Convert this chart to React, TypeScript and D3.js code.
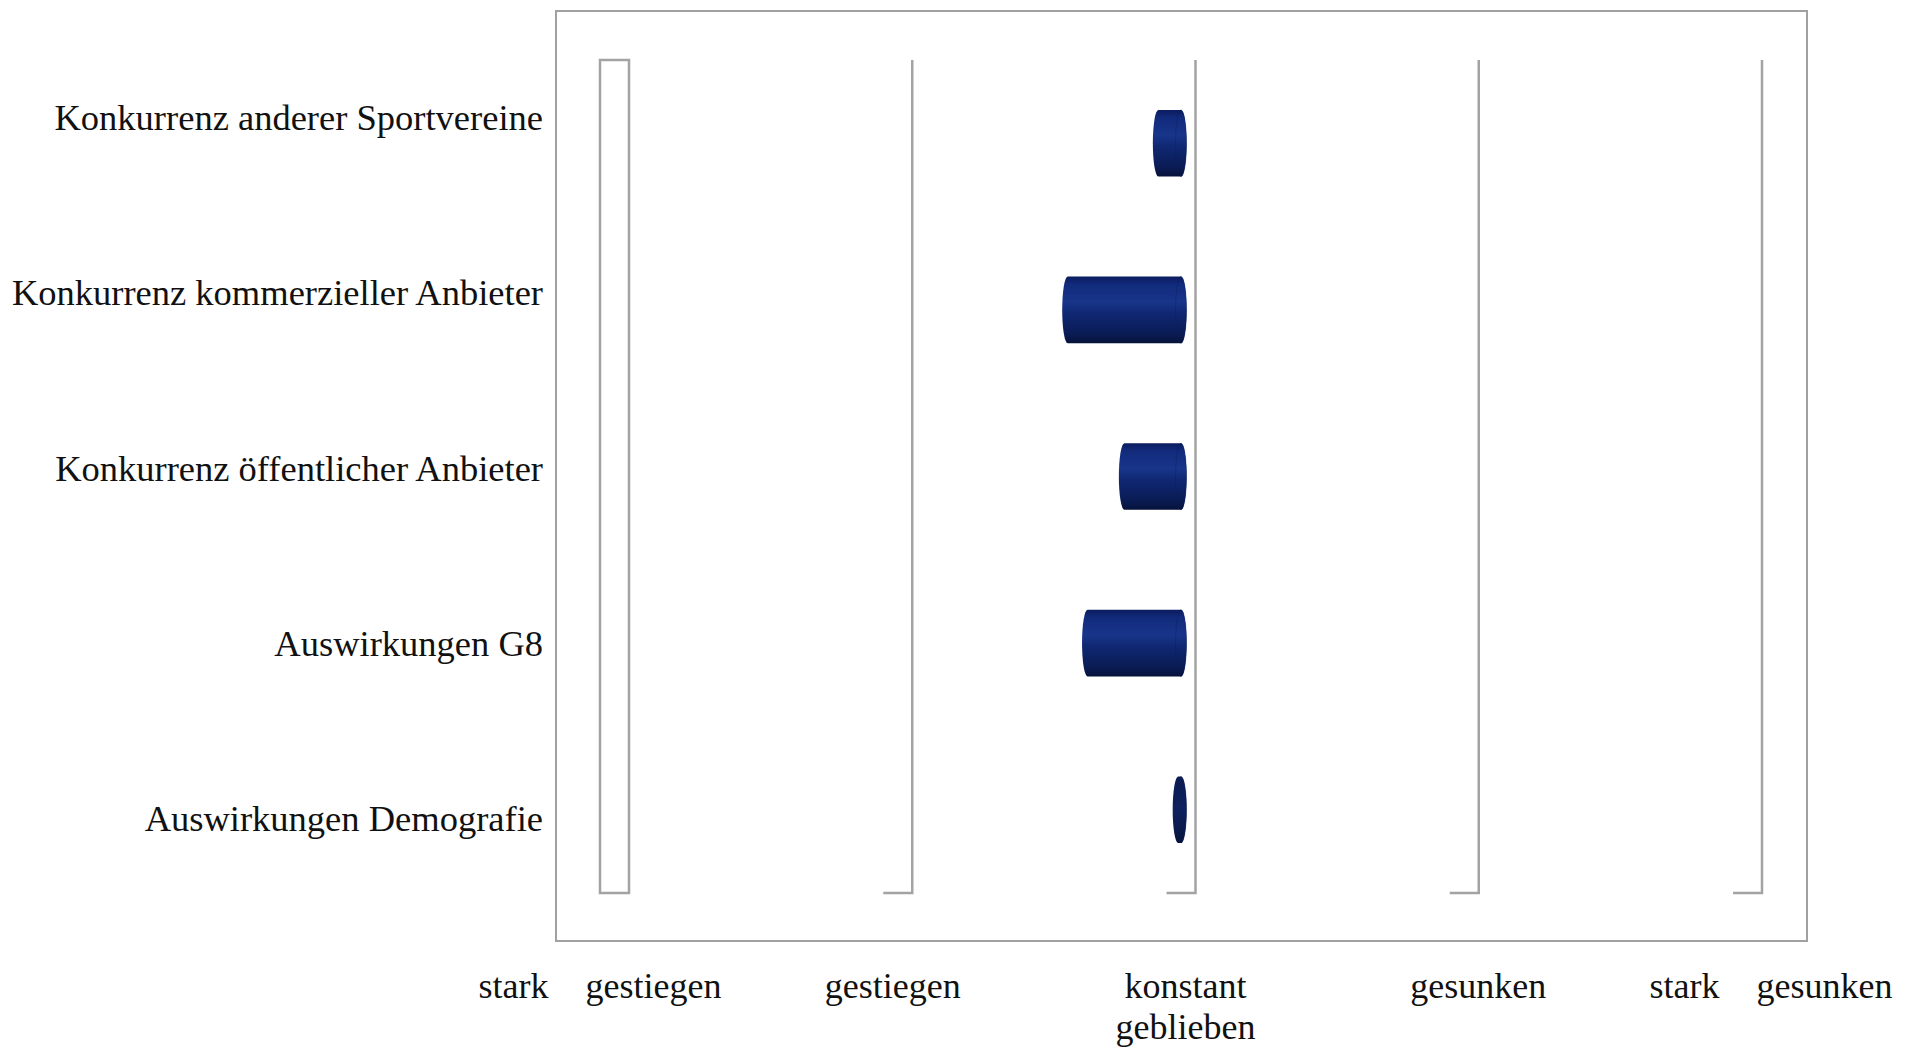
import { useEffect, useRef } from 'react'
import * as d3 from 'd3'

// ─── Data ────────────────────────────────────────────────────────────────────

const categories = [
  'Konkurrenz anderer Sportvereine',
  'Konkurrenz kommerzieller Anbieter',
  'Konkurrenz öffentlicher Anbieter',
  'Auswirkungen G8',
  'Auswirkungen Demografie',
]

// mean rating: 1 = stark gestiegen … 5 = stark gesunken
const meanValues = [2.92, 2.6, 2.8, 2.67, 2.99]

const scaleTicks = [1, 2, 3, 4, 5]
const scaleLabels = [
  ['stark gestiegen'],
  ['gestiegen'],
  ['konstant', 'geblieben'],
  ['gesunken'],
  ['stark gesunken'],
]

const baseValue = 3

// ─── Style ───────────────────────────────────────────────────────────────────

const W = 1912
const H = 1052
const font = '"Liberation Serif", "DejaVu Serif", serif'
const gridColor = '#a3a3a3'
const frameColor = '#a0a0a0'
const depth = 29
const capRx = 5.5

export default function App() {
  const ref = useRef<SVGSVGElement>(null)

  useEffect(() => {
    if (!ref.current) return
    const svg = d3.select(ref.current)
    svg.selectAll('*').remove()

    const plot = { left: 629, right: 1762, top: 60, bottom: 893 }

    const x = d3.scaleLinear().domain([1, 5]).range([plot.left, plot.right])
    const y = d3
      .scaleBand()
      .domain(categories)
      .range([plot.top, plot.bottom])
      .paddingInner(0.6)
      .paddingOuter(0.3)

    // labels sit on their own (projected) positions
    const yLabel = d3.scalePoint().domain(categories).range([130, 831])
    const xLabel = d3.scalePoint<number>().domain(scaleTicks).range([600, 1771])

    const defs = svg.append('defs')
    const grad = defs
      .append('linearGradient')
      .attr('id', 'cyl')
      .attr('x1', 0)
      .attr('y1', 0)
      .attr('x2', 0)
      .attr('y2', 1)
    ;[
      [0, '#0b1c5e'],
      [0.12, '#122b7c'],
      [0.38, '#18358a'],
      [0.55, '#102873'],
      [0.85, '#0a1c55'],
      [1, '#05123a'],
    ].forEach(([o, c]) => grad.append('stop').attr('offset', o as number).attr('stop-color', c as string))

    const capGrad = defs
      .append('linearGradient')
      .attr('id', 'cap')
      .attr('x1', 0)
      .attr('y1', 0)
      .attr('x2', 0)
      .attr('y2', 1)
    ;[
      [0, '#0b1c50'],
      [0.5, '#0f2260'],
      [1, '#06143a'],
    ].forEach(([o, c]) => capGrad.append('stop').attr('offset', o as number).attr('stop-color', c as string))

    // outer frame
    svg
      .append('rect')
      .attr('x', 556)
      .attr('y', 11)
      .attr('width', 1807 - 556)
      .attr('height', 941 - 11)
      .attr('fill', '#fff')
      .attr('stroke', frameColor)
      .attr('stroke-width', 2)

    // left wall (box) at the first tick
    svg
      .append('rect')
      .attr('x', x(1) - depth)
      .attr('y', plot.top)
      .attr('width', depth)
      .attr('height', plot.bottom - plot.top)
      .attr('fill', 'none')
      .attr('stroke', gridColor)
      .attr('stroke-width', 2.5)

    // gridlines with floor foot
    const grid = svg.append('g').attr('fill', 'none').attr('stroke', gridColor).attr('stroke-width', 2.5)
    scaleTicks.slice(1).forEach((t) => {
      grid
        .append('path')
        .attr('d', `M${x(t)},${plot.top}V${plot.bottom}H${x(t) - depth}`)
    })

    // cylinders
    const bars = svg.append('g')
    categories.forEach((c, i) => {
      const v = meanValues[i]
      const x0 = Math.min(x(v), x(baseValue)) - depth / 2
      const x1 = Math.max(x(v), x(baseValue)) - depth / 2
      const top = y(c)!
      const h = y.bandwidth()
      const ry = h / 2
      const cy = top + ry
      const short = x1 - x0 < 2 * capRx
      bars
        .append('path')
        .attr(
          'd',
          `M${x0},${top}H${x1}A${capRx},${ry} 0 0 1 ${x1},${top + h}H${x0}A${capRx},${ry} 0 0 1 ${x0},${top}Z`,
        )
        .attr('fill', short ? 'url(#cap)' : 'url(#cyl)')
      // right end face
      bars
        .append('ellipse')
        .attr('cx', x1)
        .attr('cy', cy)
        .attr('rx', capRx)
        .attr('ry', ry)
        .attr('fill', short ? 'url(#cap)' : 'url(#cyl)')
        .attr('stroke', '#0a1c55')
        .attr('stroke-width', 0.6)
        .attr('stroke-opacity', 0.6)
    })

    // category labels
    svg
      .append('g')
      .selectAll('text')
      .data(categories)
      .join('text')
      .attr('x', 543)
      .attr('y', (d) => yLabel(d)!)
      .attr('text-anchor', 'end')
      .attr('font-family', font)
      .attr('font-size', 36.5)
      .attr('fill', '#111')
      .text((d) => d)

    // scale labels
    const xl = svg
      .append('g')
      .selectAll('text')
      .data(scaleTicks)
      .join('text')
      .attr('x', (d) => xLabel(d)!)
      .attr('y', 998)
      .attr('text-anchor', 'middle')
      .attr('font-family', font)
      .attr('font-size', 36)
      .attr('word-spacing', 28)
      .attr('fill', '#111')
    xl.each(function (d, i) {
      const t = d3.select(this)
      scaleLabels[i].forEach((line, j) => {
        t.append('tspan')
          .attr('x', xLabel(d)!)
          .attr('dy', j === 0 ? 0 : 41)
          .text(line)
      })
    })
  }, [])

  return (
    <svg
      ref={ref}
      width={W}
      height={H}
      style={{ position: 'absolute', left: 0, top: 0, display: 'block', background: '#fff' }}
    />
  )
}
